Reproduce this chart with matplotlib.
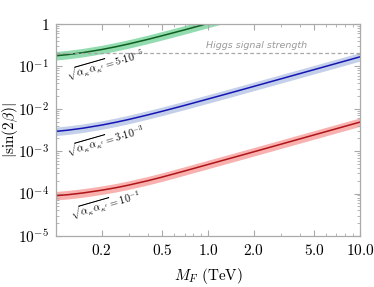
import matplotlib
matplotlib.use("Agg")
import matplotlib.pyplot as plt
from matplotlib.ticker import FixedLocator, NullFormatter

plt.rcParams['mathtext.fontset'] = 'cm'
plt.rcParams['font.family'] = 'DejaVu Serif'

# mass values (TeV) and |sin(2 beta)|
mass = [0.1, 0.12, 0.15, 0.2, 0.25, 0.3, 0.4, 0.5, 0.7, 1.0, 1.5,
        2.0, 3.0, 5.0, 7.0, 10.0]
green = [0.178, 0.19, 0.211, 0.25, 0.293, 0.338, 0.432, 0.53, 0.727, 1.03, 1.53,
         2.04, 3.06, 5.1, 7.1, 10.2]
blue = [2.93e-3, 3.13e-3, 3.48e-3, 4.13e-3, 4.84e-3, 5.58e-3, 7.14e-3, 8.74e-3,
        1.20e-2, 1.70e-2, 2.53e-2, 3.37e-2, 5.05e-2, 8.4e-2, 0.1176, 0.168]
red = [8.9e-5, 9.4e-5, 1.03e-4, 1.2e-4, 1.38e-4, 1.58e-4, 2.0e-4, 2.45e-4,
       3.4e-4, 4.85e-4, 7.25e-4, 9.65e-4, 1.45e-3, 2.42e-3, 3.39e-3, 4.85e-3]
higgs = 0.21

labels = [r'$\sqrt{\alpha_\kappa\,\alpha_{\kappa^\prime}} = 5{\cdot}10^{-5}$',
          r'$\sqrt{\alpha_\kappa\,\alpha_{\kappa^\prime}} = 3{\cdot}10^{-3}$',
          r'$\sqrt{\alpha_\kappa\,\alpha_{\kappa^\prime}} = 10^{-1}$']
label_pos = [(0.12, 0.048), (0.12, 7.6e-4), (0.127, 2.5e-5)]

xticks = [0.2, 0.5, 1.0, 2.0, 5.0, 10.0]
xticklabels = ['0.2', '0.5', '1.0', '2.0', '5.0', '10.0']
yticks = [1e-5, 1e-4, 1e-3, 1e-2, 1e-1, 1]
yticklabels = [r'$10^{-5}$', r'$10^{-4}$', r'$10^{-3}$', r'$10^{-2}$', r'$10^{-1}$', r'$1$']

band = 1.26
styles = [('#0f5f1f', '#93dcb0'), ('#1515b5', '#c4cfea'), ('#b01418', '#f8b1ae')]

fig = plt.figure(figsize=(3.74, 2.87), dpi=100)
ax = fig.add_axes([0.150, 0.178, 0.8126, 0.7384])

for ys, (lc, bc) in zip([green, blue, red], styles):
    lo = [v / band for v in ys]
    hi = [v * band for v in ys]
    ax.fill_between(mass, lo, hi, color=bc, lw=0)
    ax.plot(mass, ys, color=lc, lw=1.1)

ax.axhline(higgs, color='#a8a8a8', lw=0.9, ls=(0, (3, 2)))
ax.text(2.1, 0.31, 'Higgs signal strength', family='DejaVu Sans', style='italic',
        color='#999999', fontsize=6.8, ha='center', va='center')

for txt, (x, y) in zip(labels, label_pos):
    ax.text(x, y, txt, rotation=16, rotation_mode='anchor', ha='left',
            va='baseline', fontsize=7.5)

ax.set_xscale('log')
ax.set_yscale('log')
ax.set_xlim(0.1, 10)
ax.set_ylim(1e-5, 1)

ax.xaxis.set_major_locator(FixedLocator(xticks))
ax.set_xticklabels(['$' + t + '$' for t in xticklabels])
ax.xaxis.set_minor_locator(FixedLocator([0.3, 0.4, 0.6, 0.7, 0.8, 0.9, 3, 4, 6, 7, 8, 9]))
ax.xaxis.set_minor_formatter(NullFormatter())
ax.yaxis.set_major_locator(FixedLocator(yticks))
ax.set_yticklabels(yticklabels)
ax.yaxis.set_minor_formatter(NullFormatter())

ax.tick_params(which='both', direction='in', top=True, right=True,
               color='#aaaaaa', labelsize=11, pad=5)
ax.tick_params(which='major', length=4, width=0.8)
ax.tick_params(which='minor', length=2, width=0.6)
for s in ax.spines.values():
    s.set_color('#aaaaaa')
    s.set_linewidth(0.9)

ax.set_xlabel(r'$M_F\ (\mathrm{TeV})$', fontsize=11, labelpad=6)
ax.set_ylabel(r'$|\sin(2\beta)|$', fontsize=11)
ax.yaxis.set_label_coords(-0.118, 0.5)

fig.savefig('out.png', dpi=100)
